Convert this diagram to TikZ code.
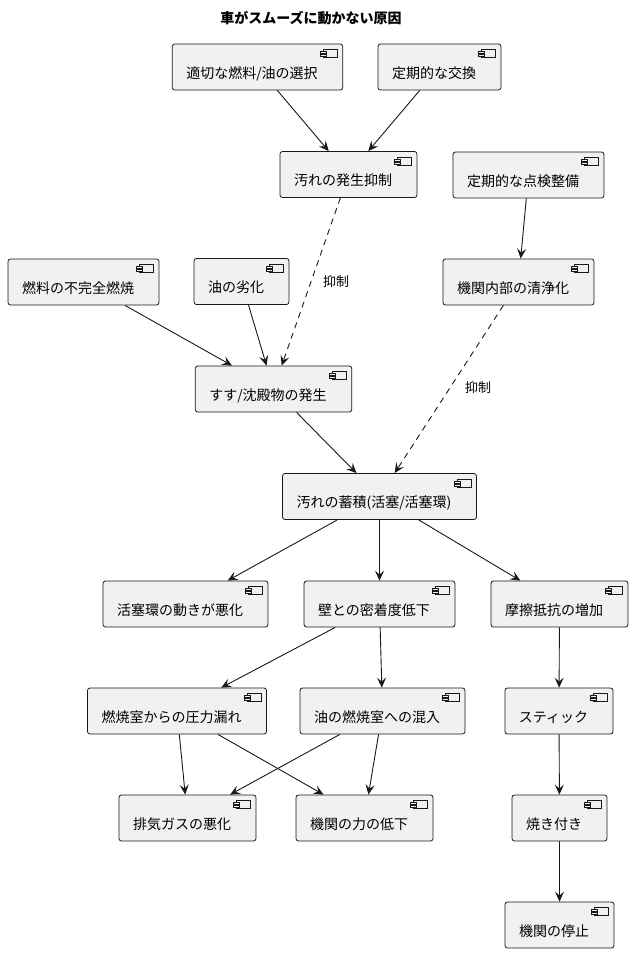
\documentclass[tikz,border=0pt]{standalone}
\usepackage{fontspec}
\setmainfont{Noto Sans CJK JP}
\usepackage{xcolor}
\usetikzlibrary{arrows.meta}
\definecolor{boxfill}{HTML}{F1F1F1}
\definecolor{linecol}{HTML}{181818}

\begin{document}
\begin{tikzpicture}[x=1pt,y=-1pt,
				box/.style={
					draw=linecol, fill=boxfill, line width=0.8pt,
					rounded corners=2.5pt,
					font=\fontsize{14}{16}\selectfont,
					inner xsep=0pt, inner ysep=0pt,
					text height=34pt, text depth=12pt,
					execute at begin node={\hspace*{14pt}},
					execute at end node={\hspace*{25pt}},
				},
				link/.style={draw=linecol, line width=0.9pt,
					-{Stealth[length=10pt,width=9pt,inset=4pt]}},
				hint/.style={link, dash pattern=on 6pt off 5pt},
				tag/.style={font=\fontsize{13}{15}\selectfont}
				]
				\useasboundingbox (0,0) rectangle (633,953);
				\node[font=\bfseries\fontsize{14}{16}\selectfont] (title) at (311,18) {車がスムーズに動かない原因};
				
				\node[box] (b1) at (257.5,67) {適切な燃料/油の選択};
				\node[box] (b2) at (439.5,67) {定期的な交換};
				\node[box] (b3) at (348.5,174.5) {汚れの発生抑制};
				\node[box] (b4) at (528.5,175) {定期的な点検整備};
				\node[box] (b5) at (83.5,282) {燃料の不完全燃焼};
				\node[box] (b6) at (241.5,281.5) {油の劣化};
				\node[box] (b7) at (518.5,282) {機関内部の清浄化};
				\node[box] (b8) at (273.5,389) {すす/沈殿物の発生};
				\node[box] (b9) at (379.5,496.5) {汚れの蓄積(活塞/活塞環)};
				\node[box] (b10) at (185.5,604) {活塞環の動きが悪化};
				\node[box] (b11) at (379.5,604) {壁との密着度低下};
				\node[box] (b12) at (559.5,604) {摩擦抵抗の増加};
				\node[box] (b13) at (177,711) {燃焼室からの圧力漏れ};
				\node[box] (b14) at (382.5,711) {油の燃焼室への混入};
				\node[box] (b15) at (559,711) {スティック};
				\node[box] (b16) at (187.5,818) {排気ガスの悪化};
				\node[box] (b17) at (364.5,818) {機関の力の低下};
				\node[box] (b18) at (559.5,818) {焼き付き};
				\node[box] (b19) at (559.5,925) {機関の停止};
				
				% component icons
				\foreach \n in {1,...,19} {
					\draw[linecol, line width=0.6pt, fill=boxfill]
						([shift={(-20,6)}]b\n.north east) rectangle ++(14,8);
					\draw[linecol, line width=0.6pt, fill=boxfill]
						([shift={(-23,8)}]b\n.north east) rectangle ++(6,2);
					\draw[linecol, line width=0.6pt, fill=boxfill]
						([shift={(-23,11)}]b\n.north east) rectangle ++(6,2);
				}
				
				\node[tag] (t1) at (336,282) {抑制};
				\node[tag] (t2) at (478,388) {抑制};
				
				\draw[link] (b1) -- (b3);
				\draw[link] (b2) -- (b3);
				\draw[link] (b4) -- (b7);
				\draw[hint] (b3) -- (b8);
				\draw[link] (b5) -- (b8);
				\draw[link] (b6) -- (b8);
				\draw[hint] (b7) -- (b9);
				\draw[link] (b8) -- (b9);
				\draw[link] (b9) -- (b10);
				\draw[link] (b9) -- (b11);
				\draw[link] (b9) -- (b12);
				\draw[link] (b11) -- (b13);
				\draw[link] (b11) -- (b14);
				\draw[link] (b12) -- (b15);
				\draw[link] (b13) -- (b16);
				\draw[link] (b13) -- (b17);
				\draw[link] (b14) -- (b16);
				\draw[link] (b14) -- (b17);
				\draw[link] (b15) -- (b18);
				\draw[link] (b18) -- (b19);
			\end{tikzpicture}
\end{document}
